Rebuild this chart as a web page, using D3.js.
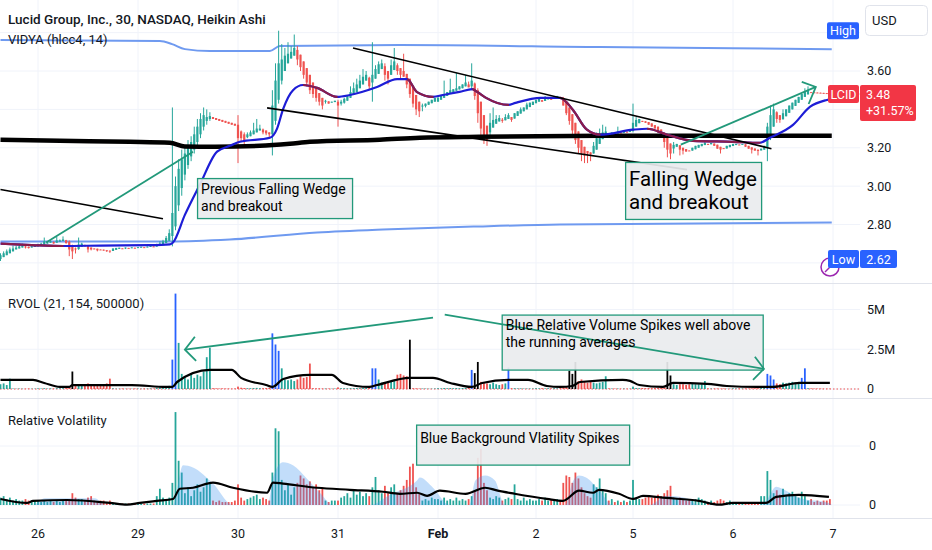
<!DOCTYPE html>
<html><head><meta charset="utf-8">
<script src="https://cdn.jsdelivr.net/npm/d3@7/dist/d3.min.js"></script>
<style>
html,body{margin:0;padding:0;background:#fff;}
svg{display:block;font-family:Roboto,"Liberation Sans",Arial,sans-serif;}
</style></head><body>
<svg id="chart" width="932" height="550"></svg>
<script>
const _ = null;
// ---------- time axis (30-min bars incl. extended hours, 32 bars per session) ----------
const dayIndex = [0,12,44,76,108,140,172,204,236,268];
const tickLabels = ["26","29","30","31","Feb","2","5","6","7"];
// ---------- Heikin Ashi candles (price, USD) ----------
const haOpen = [
/*25*/2.62,2.63,2.64,2.65,2.66,2.67,2.675,2.68,2.686,2.683,2.68,2.683,
/*26*/2.686,2.69,2.696,2.704,2.705,2.709,2.705,2.711,2.714,2.718,2.71,2.69,2.675,2.672,2.684,2.692,2.689,2.68,2.675,2.674,2.67,2.669,2.666,2.664,2.662,2.668,2.673,2.676,2.675,2.678,2.677,2.679,
/*29*/2.678,2.68,2.682,2.681,2.683,2.686,2.685,2.688,2.694,2.703,2.715,2.74,2.79,2.90,2.99,3.06,3.11,3.155,3.19,3.23,3.27,3.31,3.34,3.35,3.36,3.355,3.35,3.345,3.34,3.335,3.33,3.325,
/*30*/3.32,3.285,3.27,3.255,3.26,3.27,3.28,3.29,3.295,3.29,3.28,3.27,3.34,3.45,3.55,3.60,3.64,3.665,3.68,3.71,3.685,3.65,3.615,3.58,3.54,3.51,3.485,3.46,3.44,3.442,3.436,3.438,
/*31*/3.44,3.43,3.435,3.445,3.46,3.475,3.49,3.51,3.53,3.55,3.565,3.54,3.56,3.585,3.61,3.625,3.60,3.58,3.605,3.63,3.615,3.60,3.585,3.56,3.52,3.475,3.44,3.415,3.417,3.424,3.432,3.44,
/*F1*/3.44,3.45,3.46,3.47,3.48,3.49,3.497,3.504,3.51,3.52,3.53,3.52,3.535,3.50,3.44,3.37,3.315,3.28,3.305,3.325,3.337,3.346,3.343,3.35,3.36,3.352,3.366,3.378,3.39,3.40,3.412,3.423,
/*F2*/3.432,3.44,3.448,3.444,3.452,3.457,3.454,3.46,3.465,3.46,3.44,3.41,3.375,3.33,3.285,3.24,3.205,3.183,3.176,3.17,3.19,3.22,3.245,3.262,3.274,3.272,3.276,3.274,3.28,3.278,3.284,3.282,
/*F5*/3.288,3.31,3.328,3.34,3.338,3.334,3.327,3.318,3.31,3.295,3.278,3.254,3.222,3.196,3.205,3.213,3.20,3.193,3.186,3.185,3.192,3.20,3.208,3.214,3.22,3.218,3.222,3.216,3.205,3.198,3.196,3.203,
/*F6*/3.209,3.214,3.217,3.216,3.218,3.21,3.202,3.196,3.19,3.186,3.19,3.20,3.255,3.31,3.385,3.37,3.348,3.364,3.382,3.40,3.418,3.434,3.45,3.465,3.478,3.49,3.489,3.488,3.487,3.486,3.485,3.484];
const haClose = [
/*25*/2.64,2.65,2.66,2.67,2.675,2.68,2.686,2.69,2.68,2.677,2.686,2.69,
/*26*/2.696,2.70,2.712,2.706,2.712,2.701,2.717,2.717,2.722,2.703,2.67,2.66,2.67,2.696,2.70,2.686,2.67,2.67,2.672,2.665,2.668,2.664,2.662,2.66,2.675,2.678,2.679,2.674,2.68,2.676,2.681,2.677,
/*29*/2.682,2.684,2.68,2.685,2.688,2.684,2.692,2.70,2.712,2.73,2.755,2.86,3.00,3.09,3.14,3.17,3.20,3.23,3.27,3.31,3.35,3.37,3.36,3.365,3.35,3.345,3.34,3.335,3.33,3.325,3.32,3.315,
/*30*/3.25,3.25,3.24,3.27,3.28,3.29,3.30,3.30,3.28,3.275,3.27,3.42,3.55,3.64,3.66,3.68,3.69,3.70,3.72,3.66,3.62,3.58,3.54,3.50,3.48,3.46,3.44,3.42,3.445,3.43,3.44,3.445,
/*31*/3.42,3.44,3.455,3.47,3.49,3.51,3.53,3.55,3.57,3.58,3.52,3.58,3.61,3.635,3.64,3.58,3.56,3.63,3.65,3.60,3.58,3.57,3.53,3.48,3.43,3.40,3.39,3.42,3.43,3.44,3.45,3.46,
/*F1*/3.46,3.47,3.48,3.49,3.50,3.505,3.51,3.52,3.53,3.54,3.515,3.55,3.47,3.38,3.30,3.26,3.24,3.33,3.345,3.35,3.355,3.34,3.36,3.37,3.345,3.38,3.39,3.40,3.41,3.425,3.435,3.44,
/*F2*/3.45,3.455,3.44,3.46,3.462,3.45,3.465,3.47,3.458,3.42,3.38,3.34,3.29,3.24,3.20,3.17,3.16,3.17,3.165,3.21,3.25,3.27,3.28,3.285,3.27,3.28,3.272,3.285,3.275,3.29,3.28,3.295,
/*F5*/3.33,3.345,3.35,3.335,3.33,3.32,3.31,3.30,3.28,3.26,3.23,3.19,3.17,3.215,3.22,3.19,3.185,3.18,3.185,3.20,3.21,3.215,3.22,3.225,3.215,3.225,3.21,3.195,3.19,3.195,3.21,3.215,
/*F6*/3.22,3.22,3.215,3.22,3.205,3.195,3.19,3.185,3.183,3.195,3.21,3.31,3.37,3.40,3.35,3.345,3.38,3.40,3.42,3.435,3.45,3.465,3.48,3.49,3.50,3.488,3.487,3.486,3.485,3.484,3.483,3.482];
// wick extremes (null = no visible wick beyond the body)
const haHigh = [
/*25*/2.65,2.66,2.67,2.68,2.69,2.69,2.70,2.70,2.69,2.685,2.69,2.692,
/*26*/2.70,2.705,2.732,2.712,2.717,2.712,2.738,2.722,2.738,2.72,2.717,2.695,2.68,2.732,2.705,2.695,_,_,_,_,_,_,_,_,_,_,_,_,_,_,_,_,
/*29*/_,_,_,_,_,_,2.70,2.712,2.72,2.74,2.775,3.41,3.05,3.14,3.19,3.21,3.24,3.26,3.31,3.35,3.38,3.41,3.40,3.385,_,_,_,_,_,_,_,_,
/*30*/3.37,3.29,3.28,3.28,3.29,3.33,3.35,3.32,3.30,_,_,3.50,3.64,3.81,3.74,3.72,3.75,3.73,3.79,3.73,_,_,_,_,_,_,_,_,3.45,_,_,_,
/*31*/3.45,3.45,3.46,_,3.52,3.54,3.56,3.58,3.61,3.60,3.57,3.75,3.63,3.65,3.66,3.64,_,3.66,3.72,3.64,_,3.69,_,_,_,_,_,3.43,_,_,_,_,
/*F1*/3.47,_,3.55,_,3.56,_,3.59,_,_,3.58,3.545,3.64,3.54,3.51,_,_,_,3.38,3.41,3.37,3.37,3.355,3.375,3.38,_,_,_,3.41,_,3.435,_,_,
/*F2*/_,_,_,3.47,_,_,_,_,_,3.465,_,_,_,_,_,_,_,_,_,3.23,3.28,3.30,3.32,3.31,_,_,_,3.31,_,_,_,_,
/*F5*/3.43,3.36,_,_,_,_,_,_,_,_,_,_,_,3.23,_,_,_,_,_,_,_,_,_,3.235,_,_,_,_,_,_,_,_,
/*F6*/_,_,_,_,_,_,_,_,_,_,_,3.33,3.42,3.43,3.39,_,3.40,_,_,_,_,_,_,3.51,3.52,_,_,_,_,_,_,_];
const haLow = [
/*25*/2.61,2.63,_,_,_,_,_,_,2.675,2.675,_,_,
/*26*/_,_,_,2.70,_,2.70,_,_,_,2.70,2.635,2.62,2.649,2.668,_,_,2.654,2.665,_,2.66,_,_,2.657,2.652,_,_,_,_,2.672,_,_,_,
/*29*/_,_,_,_,_,_,_,_,_,_,_,2.686,2.77,2.87,2.95,3.03,3.09,3.13,3.17,3.21,3.25,3.29,3.32,3.34,_,_,_,_,_,_,_,_,
/*30*/3.12,3.23,3.22,3.25,_,_,_,_,3.27,3.265,3.25,3.16,3.32,3.43,3.53,_,_,_,_,3.63,3.60,3.56,3.52,3.48,3.46,3.44,3.42,3.40,3.43,_,_,_,
/*31*/3.31,3.42,3.43,_,_,_,_,_,_,_,3.50,3.44,_,_,_,3.55,3.53,_,_,3.58,3.56,_,3.51,3.46,3.41,3.37,3.36,3.39,3.41,_,_,_,
/*F1*/_,_,_,_,_,_,_,_,_,_,_,3.50,3.45,3.33,3.25,3.22,3.21,3.26,_,_,_,3.33,_,_,3.335,_,_,_,_,_,_,_,
/*F2*/_,_,_,_,_,_,_,_,_,_,3.37,3.32,3.27,3.22,3.17,3.13,3.12,3.12,3.13,_,_,_,_,_,_,_,_,_,_,_,_,_,
/*F5*/3.28,_,_,_,_,_,_,_,_,_,3.20,3.15,3.14,3.17,_,3.16,3.165,_,_,_,_,_,_,_,_,_,_,_,3.17,_,_,_,
/*F6*/_,_,_,_,_,_,3.17,_,3.16,_,_,3.13,3.24,_,3.33,3.33,_,_,_,_,_,_,_,_,_,_,_,_,_,_,_,_];
// ---------- overlays (bar index, price) ----------
const vidya = [[0,2.70],[10,2.693],[20,2.688],[32,2.69],[48,2.692],[54.2,2.696],[55.2,2.706],[59,2.85],[63.8,3.008],[69.3,3.18],[73.4,3.21],[76.6,3.231],[86.2,3.252],[88.5,3.30],[90.4,3.40],[93.6,3.50],[96.8,3.527],[101.3,3.512],[107.7,3.465],[111.8,3.475],[120.5,3.517],[126.9,3.558],[130.1,3.558],[133.3,3.49],[138.4,3.465],[141.6,3.475],[147,3.491],[151.2,3.506],[152.8,3.491],[155.7,3.46],[163,3.423],[165.3,3.434],[173.6,3.46],[179.9,3.46],[184.2,3.397],[188.8,3.294],[193.1,3.268],[204,3.294],[208.5,3.299],[214.9,3.268],[223.2,3.236],[236,3.231],[244.6,3.226],[247.8,3.252],[255.2,3.319],[260.6,3.413],[266,3.449],[267.6,3.455]];
const longMA = [[0,3.242],[19,3.236],[41.4,3.231],[54.2,3.226],[59,3.207],[68.6,3.205],[83,3.21],[92.6,3.221],[99,3.231],[121.4,3.242],[134.2,3.252],[153.4,3.257],[193.1,3.262],[267.6,3.262]];
const bandUpper = [[0,3.761],[51,3.756],[54.9,3.74],[59,3.714],[67,3.704],[86.2,3.704],[89.4,3.73],[127.8,3.735],[193.1,3.725],[267.6,3.714]];
const bandLower = [[0,2.712],[54.2,2.712],[73.4,2.722],[101.3,2.758],[122.4,2.774],[153.4,2.79],[179.9,2.80],[267.6,2.81]];
// ---------- RVOL (volume, millions) ----------
const volume = [
/*25*/0.3,0.35,0.25,0.65,0.03,0.02,0.03,0.02,0.02,0.03,0.02,0.02,
/*26*/0.04,0.03,0.05,0.03,0.04,0.03,0.05,0.04,0.05,0.06,0.1,1.1,0.3,0.25,0.2,0.3,0.35,0.2,0.25,0.2,0.3,0.3,0.35,0.65,0.04,0.02,0.02,0.03,0.02,0.02,0.02,0.03,
/*29*/0.03,0.02,0.03,0.03,0.04,0.03,0.08,0.1,0.12,0.15,0.2,1.85,6.0,2.9,0.95,0.8,0.6,1.0,0.7,0.9,0.8,1.1,2.0,2.6,0.05,0.04,0.03,0.04,0.03,0.03,0.02,0.03,
/*30*/0.15,0.08,0.06,0.05,0.05,0.06,0.07,0.05,0.05,0.06,0.08,3.5,2.8,2.4,1.3,0.6,0.55,0.6,0.5,0.6,0.8,0.7,0.75,1.6,0.05,0.04,0.04,0.03,0.03,0.03,0.02,0.03,
/*31*/0.1,0.05,0.05,0.04,0.05,0.05,0.06,0.05,0.06,0.07,0.1,1.3,1.3,0.6,0.4,0.35,0.4,0.45,0.5,0.9,0.95,0.85,0.8,3.1,0.05,0.04,0.03,0.03,0.03,0.02,0.02,0.03,
/*F1*/0.05,0.04,0.06,0.05,0.06,0.05,0.06,0.05,0.06,0.07,0.1,1.2,1.0,1.7,0.45,0.4,0.35,0.3,0.4,0.3,0.25,0.3,0.35,1.35,0.05,0.05,0.04,0.04,0.03,0.03,0.03,0.03,
/*F2*/0.05,0.04,0.05,0.04,0.05,0.04,0.05,0.04,0.05,0.1,0.15,1.15,0.95,1.7,0.5,0.6,0.45,0.4,0.45,0.4,0.35,0.4,0.45,0.8,0.04,0.03,0.03,0.03,0.02,0.03,0.02,0.02,
/*F5*/0.15,0.06,0.05,0.06,0.05,0.06,0.05,0.06,0.07,0.08,0.1,1.7,0.85,0.3,0.25,0.3,0.3,0.25,0.3,0.35,0.3,0.3,0.3,0.5,0.04,0.03,0.03,0.03,0.02,0.03,0.02,0.02,
/*F6*/0.04,0.03,0.04,0.03,0.04,0.03,0.04,0.05,0.05,0.06,0.1,0.95,0.85,0.6,0.35,0.3,0.4,0.35,0.4,0.45,0.4,0.45,0.7,1.3,0.05,0.04,0.03,0.03,0.03,0.02,0.02,0.02];
const rvolSpikes = [23,55,56,87,88,89,119,120,131,151,152,153,163,183,184,185,215,216,247,248,249,258,259];
const rvolAvg = [[0,0.57],[10.4,0.57],[14,0.38],[19,0.13],[22,0.13],[23,0.25],[42,0.25],[53,0.13],[55,0.13],[56.5,0.44],[67,1.2],[74,1.2],[77,0.7],[85,0.25],[87,0.13],[90.5,0.63],[99,0.89],[106,0.89],[109.6,0.38],[118,0.13],[120.5,0.25],[131,0.7],[138.4,0.7],[144,0.38],[151,0.13],[154.4,0.38],[163,0.57],[169.4,0.57],[175.6,0.19],[180,0.13],[184,0.19],[186.5,0.44],[200.6,0.57],[203,0.51],[206,0.25],[213.6,0.13],[216.8,0.38],[227.7,0.32],[234,0.19],[243.7,0.13],[248.8,0.13],[257.4,0.38],[267,0.38]];
const volTicks = [0,2.5,5];
const volTickLabels = ["0","2.5M","5M"];
// ---------- Relative Volatility ----------
const relVol = [
/*25*/0.05,0.06,0.04,0.05,0.03,0.04,0.03,0.03,0.04,0.03,0.02,0.03,
/*26*/0.03,0.02,0.03,0.02,0.03,0.02,0.03,0.02,0.03,0.03,0.04,0.08,0.05,0.04,0.04,0.03,0.05,0.06,0.03,0.02,0.03,0.03,0.02,0.03,0.01,0.01,0.01,0.01,0.01,0.01,0.01,0.01,
/*29*/0.01,0.01,0.01,0.01,0.01,0.01,0.06,0.11,0.05,0.04,0.05,0.15,0.63,0.3,0.22,0.08,0.12,0.06,0.1,0.14,0.09,0.12,0.18,0.15,0.03,0.02,0.03,0.02,0.02,0.02,0.02,0.03,
/*30*/0.14,0.05,0.03,0.04,0.05,0.06,0.07,0.04,0.05,0.04,0.03,0.22,0.52,0.5,0.17,0.1,0.14,0.07,0.12,0.15,0.2,0.18,0.14,0.16,0.12,0.14,0.1,0.12,0.03,0.02,0.03,0.03,
/*31*/0.03,0.05,0.06,0.08,0.05,0.1,0.07,0.09,0.06,0.08,0.06,0.12,0.19,0.1,0.08,0.13,0.08,0.12,0.14,0.08,0.1,0.13,0.17,0.26,0.28,0.12,0.08,0.03,0.04,0.03,0.05,0.04,
/*F1*/0.04,0.03,0.05,0.03,0.04,0.03,0.05,0.03,0.04,0.03,0.04,0.06,0.1,0.32,0.38,0.15,0.1,0.05,0.04,0.06,0.05,0.03,0.04,0.05,0.04,0.14,0.04,0.03,0.05,0.03,0.04,0.03,
/*F2*/0.03,0.04,0.03,0.05,0.03,0.04,0.03,0.04,0.03,0.15,0.2,0.19,0.15,0.22,0.18,0.12,0.08,0.06,0.05,0.14,0.12,0.18,0.1,0.08,0.03,0.04,0.02,0.03,0.02,0.03,0.02,0.03,
/*F5*/0.17,0.05,0.04,0.04,0.05,0.06,0.05,0.06,0.07,0.06,0.08,0.1,0.13,0.05,0.04,0.05,0.04,0.03,0.04,0.03,0.04,0.05,0.04,0.03,0.02,0.03,0.02,0.03,0.04,0.03,0.02,0.03,
/*F6*/0.02,0.01,0.02,0.01,0.02,0.01,0.02,0.01,0.02,0.06,0.06,0.23,0.17,0.08,0.1,0.07,0.11,0.06,0.08,0.09,0.06,0.05,0.09,0.06,0.03,0.04,0.02,0.03,0.02,0.03,0.03,0.04];
const relVolAvg = [[0,0.041],[8.5,0.014],[10.4,0.028],[21.3,0.034],[35,0.014],[40.5,0.002],[44.6,0.014],[50,0.028],[55.2,0.041],[57.4,0.11],[61.6,0.117],[68,0.152],[74.4,0.117],[85.3,0.083],[87.2,0.152],[90.4,0.145],[101.3,0.117],[111.8,0.103],[122.4,0.09],[127.8,0.076],[133.3,0.083],[136.5,0.062],[140.6,0.097],[149,0.076],[155.4,0.117],[159.5,0.097],[165,0.076],[175.6,0.041],[180.9,0.028],[186.2,0.097],[190.8,0.083],[192.8,0.103],[199.4,0.076],[204,0.041],[207.2,0.062],[214.6,0.048],[225.1,0.028],[231.5,0.002],[236,0.014],[246.6,0.014],[249.8,0.055],[257.1,0.069],[266.7,0.055]];
const relVolBackground = [[0,0],[10.4,0],[14.2,0.045],[30.2,0.045],[33.4,0],[55.2,0],[58.4,0.27],[61.6,0.255],[68,0.145],[74.4,0],[85.6,0],[87.2,0.186],[90.4,0.29],[93.6,0.27],[98,0.18],[102.2,0.083],[106.4,0],[118.2,0],[124.6,0.07],[133.3,0.166],[134.2,0.186],[138.4,0.117],[143.8,0],[150.2,0],[152.2,0.166],[155.4,0.2],[158.6,0.166],[161.8,0],[181.6,0],[184.3,0.166],[186.2,0.2],[188.5,0.186],[192.8,0.1],[197.4,0],[209.4,0],[214.6,0.062],[221,0.048],[225,0],[244.6,0],[246.6,0.028],[249.8,0.124],[253,0.097],[257.2,0.048],[266.7,0.014],[267.6,0]];
const rvTicks = [0,0.4];
// ---------- price axis ----------
const priceGridTicks = [2.6,2.8,3.0,3.2,3.4,3.6,3.8];
const priceLabelTicks = [2.8,3.0,3.2,3.6];
const lastPrice = 3.48, changePct = "+31.57%", rangeHigh = 3.81, rangeLow = 2.62;
// ---------- drawings (bar index, value) ----------
const blackTrendlines = [[[0,2.982],[52,2.83]],[[85.3,3.408],[221.3,3.086]],[[112.8,3.72],[248.3,3.195]]];
const tealPriceLines = [[[14.6,2.706],[61.6,3.179]],[[219.3,3.216],[262.5,3.517]],[[258,3.543],[262.5,3.517],[260.2,3.428]]];
const tealVolLines = [[[138.4,4.49],[59,2.47]],[[62.2,3.29],[59,2.47],[62.6,1.77]],[[142.2,4.68],[245.9,1.27]],[[243,2.03],[245.9,1.27],[242.4,0.57]]];
const noteLines = [["Previous Falling Wedge","and breakout"],["Falling Wedge","and breakout"],["Blue Relative Volume Spikes well above","the running averages"],["Blue Background Vlatility Spikes"]];
const noteAnchors = [[62.9,3.042,"price"],[201.4,3.126,"price"],[160.8,4.68,"vol"],[133,0.545,"rv"]];

// ================= drawing =================
const n = haOpen.length;
[haClose,haHigh,haLow,volume,relVol].forEach((a,k)=>{ if(a.length!==n) throw new Error("length mismatch "+k+": "+a.length+" vs "+n); });

const svg = d3.select("#chart");
const plotR = 860, W = 932;
const mainTop=0, mainBot=283, volTop=283, volBot=398, rvTop=398, rvBot=518;
const x = d3.scaleLinear().domain(dayIndex).range([0.5,38,138,238,338,438,536,633,733,833]);
const y = d3.scaleLinear().domain([2.8,3.6]).range([224.5,71]);
const yv = d3.scaleLinear().domain([0,5]).range([389,309.5]);
const yr = d3.scaleLinear().domain([0,0.4]).range([505,446]);
const UP="#26a69a", DN="#ef5350", BLUE="#2962ff", TEAL="#22997a", TXT="#131722";

svg.append("rect").attr("width",W).attr("height",550).attr("fill","#fff");
const defs = svg.append("defs");
function clip(id,y0,y1){ defs.append("clipPath").attr("id",id).append("rect").attr("x",0).attr("y",y0).attr("width",plotR).attr("height",y1-y0); }
clip("cMain",mainTop,mainBot); clip("cVol",volTop,volBot); clip("cRv",rvTop,rvBot);

// grid
const grid = svg.append("g").attr("stroke","#f0f3fa").attr("stroke-width",1);
dayIndex.slice(1).forEach(d=>grid.append("line").attr("x1",x(d)).attr("x2",x(d)).attr("y1",0).attr("y2",rvBot));
priceGridTicks.forEach(p=>grid.append("line").attr("x1",0).attr("x2",plotR).attr("y1",y(p)).attr("y2",y(p)));
volTicks.forEach(v=>grid.append("line").attr("x1",0).attr("x2",plotR).attr("y1",yv(v)).attr("y2",yv(v)));
rvTicks.forEach(v=>grid.append("line").attr("x1",0).attr("x2",plotR).attr("y1",yr(v)).attr("y2",yr(v)));
[mainBot,volBot,rvBot].forEach(yy=>svg.append("line").attr("x1",0).attr("x2",W).attr("y1",yy+0.5).attr("y2",yy+0.5).attr("stroke","#e0e3eb"));

// ---------- main pane ----------
const gm = svg.append("g").attr("clip-path","url(#cMain)");
const lp = d3.line().x(d=>x(d[0])).y(d=>y(d[1])).curve(d3.curveMonotoneX);
gm.append("path").attr("d",lp(bandUpper)).attr("fill","none").attr("stroke","#6f9af0").attr("stroke-width",2);
gm.append("path").attr("d",lp(bandLower)).attr("fill","none").attr("stroke","#6f9af0").attr("stroke-width",2);

const bars = haOpen.map((o,i)=>{const c=haClose[i];return {i,o,c,h:haHigh[i]??Math.max(o,c),l:haLow[i]??Math.min(o,c),up:c>=o};});
const gc = gm.append("g");
gc.selectAll("line.w").data(bars).join("line").attr("x1",d=>x(d.i)).attr("x2",d=>x(d.i)).attr("y1",d=>y(d.h)).attr("y2",d=>y(d.l)).attr("stroke",d=>d.up?UP:DN).attr("stroke-width",1);
gc.selectAll("rect").data(bars).join("rect").attr("x",d=>x(d.i)-1.1).attr("width",2.2)
  .attr("y",d=>y(Math.max(d.o,d.c))).attr("height",d=>Math.max(1,Math.abs(y(d.o)-y(d.c)))).attr("fill",d=>d.up?UP:DN);

gm.append("path").attr("d",lp(longMA)).attr("fill","none").attr("stroke","#000").attr("stroke-width",4.5);
// VIDYA: blue rising, maroon falling
gm.append("path").attr("d",lp(vidya)).attr("fill","none").attr("stroke","#1d1dd6").attr("stroke-width",2.2);
const cv = defs.append("clipPath").attr("id","cVidyaDown");
for(let k=0;k<vidya.length-1;k++){ if(vidya[k+1][1]<vidya[k][1]) cv.append("rect").attr("x",x(vidya[k][0])).attr("width",x(vidya[k+1][0])-x(vidya[k][0])+0.5).attr("y",0).attr("height",mainBot); }
gm.append("path").attr("d",lp(vidya)).attr("fill","none").attr("stroke","#8a1c4a").attr("stroke-width",2.2).attr("clip-path","url(#cVidyaDown)");

const ll = d3.line().x(d=>x(d[0])).y(d=>y(d[1]));
blackTrendlines.forEach(t=>gm.append("path").attr("d",ll(t)).attr("fill","none").attr("stroke","#000").attr("stroke-width",1.6));
tealPriceLines.forEach(t=>gm.append("path").attr("d",ll(t)).attr("fill","none").attr("stroke",TEAL).attr("stroke-width",1.8));

// last price dotted line
gm.append("line").attr("x1",x(n-1)).attr("x2",plotR).attr("y1",y(lastPrice)).attr("y2",y(lastPrice)).attr("stroke",DN).attr("stroke-dasharray","1.5,2");

// ---------- volume pane ----------
const gv = svg.append("g").attr("clip-path","url(#cVol)");
gv.append("line").attr("x1",0).attr("x2",plotR).attr("y1",yv(0)).attr("y2",yv(0)).attr("stroke",DN).attr("stroke-dasharray","1.5,2");
const spikeSet = new Set(rvolSpikes);
gv.selectAll("rect").data(volume).join("rect").attr("x",(d,i)=>x(i)-0.9).attr("width",1.8)
  .attr("y",d=>yv(d)).attr("height",d=>yv(0)-yv(d))
  .attr("fill",(d,i)=>spikeSet.has(i)?(bars[i].up?BLUE:"#000"):(bars[i].up?UP:DN));
const lv = d3.line().x(d=>x(d[0])).y(d=>yv(d[1])).curve(d3.curveMonotoneX);
gv.append("path").attr("d",lv(rvolAvg)).attr("fill","none").attr("stroke","#000").attr("stroke-width",2.2);
const llv = d3.line().x(d=>x(d[0])).y(d=>yv(d[1]));

// ---------- relative volatility pane ----------
const gr = svg.append("g").attr("clip-path","url(#cRv)");
gr.selectAll("rect").data(relVol).join("rect").attr("x",(d,i)=>x(i)-0.9).attr("width",1.8)
  .attr("y",d=>yr(d)).attr("height",d=>yr(0)-yr(d)).attr("fill",(d,i)=>bars[i].up?UP:DN);
const ar = d3.area().x(d=>x(d[0])).y0(yr(0)).y1(d=>yr(d[1])).curve(d3.curveMonotoneX);
gr.append("path").attr("d",ar(relVolBackground)).attr("fill","rgba(66,150,240,0.32)");
const lr = d3.line().x(d=>x(d[0])).y(d=>yr(d[1])).curve(d3.curveMonotoneX);
gr.append("path").attr("d",lr(relVolAvg)).attr("fill","none").attr("stroke","#000").attr("stroke-width",2.2);

// ---------- annotation boxes ----------
const noteSize = [[155,40,14,[16,33]],[136,57,20.5,[24,47]],[261,55,14,[15,32]],[213,40,14,[18]]];
const paneScale = {price:y, vol:yv, rv:yr};
noteAnchors.forEach((a,k)=>{
  const bx = x(a[0]), by = paneScale[a[2]](a[1]);
  const [w,h,fs,bl] = noteSize[k];
  const g = svg.append("g");
  g.append("rect").attr("x",bx+0.5).attr("y",by+0.5).attr("width",w).attr("height",h).attr("fill","rgba(233,235,238,0.92)").attr("stroke",TEAL).attr("stroke-width",1.3);
  if(k===2){ tealVolLines.forEach(t=>g.append("path").attr("d",llv(t)).attr("fill","none").attr("stroke",TEAL).attr("stroke-width",1.8)); }
  noteLines[k].forEach((t,j)=>g.append("text").attr("x",bx+4).attr("y",by+bl[j]).attr("font-size",fs).attr("fill","#000").text(t));
});

// ---------- pane titles ----------
svg.append("text").attr("x",8).attr("y",24).attr("font-size",13.5).attr("font-weight",500).attr("fill",TXT).text("Lucid Group, Inc., 30, NASDAQ, Heikin Ashi");
svg.append("text").attr("x",8).attr("y",44).attr("font-size",13).attr("fill",TXT).text("VIDYA (hlcc4, 14)");
svg.append("text").attr("x",8).attr("y",308).attr("font-size",13).attr("fill",TXT).text("RVOL (21, 154, 500000)");
svg.append("text").attr("x",8).attr("y",425).attr("font-size",13).attr("fill",TXT).text("Relative Volatility");

// ---------- axes ----------
const ax = svg.append("g").attr("font-size",12.5).attr("fill",TXT);
priceLabelTicks.forEach(p=>ax.append("text").attr("x",867).attr("y",y(p)).attr("dy","0.35em").text(d3.format(".2f")(p)));
volTicks.forEach((v,k)=>ax.append("text").attr("x",867).attr("y",yv(v)).attr("dy","0.35em").text(volTickLabels[k]));
rvTicks.forEach(v=>ax.append("text").attr("x",869).attr("y",yr(v)).attr("dy","0.35em").text(d3.format(".0f")(v)));
tickLabels.forEach((t,k)=>ax.append("text").attr("x",x(dayIndex[k+1])).attr("y",538).attr("text-anchor","middle").attr("font-weight",t==="Feb"?700:400).text(t));

// USD box
svg.append("rect").attr("x",865.5).attr("y",5.5).attr("width",62).attr("height",30).attr("rx",4).attr("fill","#fff").attr("stroke","#e0e3eb");
svg.append("text").attr("x",872).attr("y",25).attr("font-size",13).attr("fill",TXT).text("USD");

// High / Low / last price labels
function tag(x0,yc,w,h,fill,txt,dy){ svg.append("rect").attr("x",x0).attr("y",yc-h/2).attr("width",w).attr("height",h).attr("rx",2).attr("fill",fill);
  svg.append("text").attr("x",x0+w/2).attr("y",yc).attr("dy",dy||"0.36em").attr("text-anchor","middle").attr("font-size",12.5).attr("fill","#fff").text(txt); }
tag(827,y(rangeHigh),32,17,BLUE,"High");
// purple marker near low
svg.append("circle").attr("cx",830).attr("cy",y(rangeLow)+8).attr("r",9).attr("fill","#fff").attr("stroke","#9c27b0").attr("stroke-width",1.5);
svg.append("path").attr("d",`M825,${y(rangeLow)+13} L831,${y(rangeLow)+7}`).attr("stroke","#9c27b0").attr("stroke-width",1.5);
tag(828,y(rangeLow),31,18,BLUE,"Low");
tag(860,y(rangeLow),37,18,BLUE,d3.format(".2f")(rangeLow));
tag(828,y(lastPrice),31,18,"#f23645","LCID");
const ly = y(lastPrice);
svg.append("rect").attr("x",860).attr("y",ly-9).attr("width",56).attr("height",36).attr("rx",2).attr("fill","#f23645");
svg.append("text").attr("x",866).attr("y",ly+5).attr("font-size",12.5).attr("fill","#fff").text(d3.format(".2f")(lastPrice));
svg.append("text").attr("x",866).attr("y",ly+21).attr("font-size",12.5).attr("fill","#fff").text(changePct);
</script></body></html>
